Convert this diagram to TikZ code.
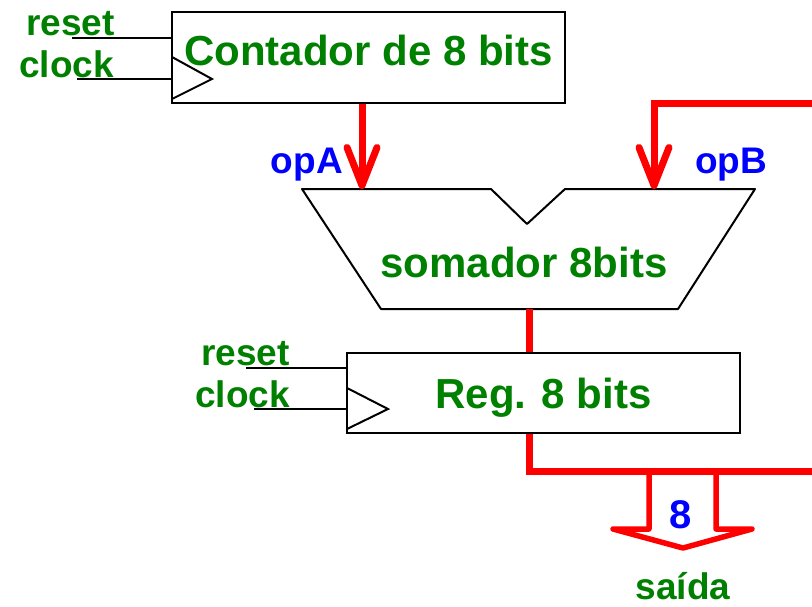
\documentclass[tikz,border=0pt]{standalone}
\usepackage{fontspec}
\setmainfont{Liberation Sans}
\usetikzlibrary{arrows.meta}
\definecolor{lblgreen}{RGB}{0,128,0}
\definecolor{lblblue}{RGB}{0,0,255}
\definecolor{busred}{RGB}{255,0,0}
\tikzset{
  blk/.style={draw, line width=2pt, inner sep=0pt, text=lblgreen,
    font=\fontsize{42}{48}\selectfont\bfseries},
  sig/.style={text=lblgreen, inner sep=0pt, anchor=base west,
    font=\fontsize{37}{44}\selectfont\bfseries},
  oplbl/.style={text=lblblue, inner sep=0pt, anchor=base west,
    font=\fontsize{37}{44}\selectfont\bfseries},
  wire/.style={line width=2pt},
  bus/.style={draw=busred, line width=7pt},
  busarrow/.style={bus, -{Straight Barb[length=38pt,width=30pt,round]}},
}
\begin{document}
\begin{tikzpicture}[x=1pt,y=-1pt]
\useasboundingbox (0,0) rectangle (812,606);
% contador
\node[blk, minimum width=393pt, minimum height=91pt, text height=30pt, text depth=15pt] (cnt) at (368.5,57.5) {Contador de 8 bits};
\node[sig] (rst1) at (26,35) {reset};
\node[sig] (clk1) at (19,77) {clock};
\coordinate (rst1in) at (72,38);
\coordinate (clk1in) at (77,79);
\draw[wire] (rst1in) -- (rst1in -| cnt.west);
\draw[wire] (clk1in) -- (clk1in -| cnt.west);
\draw[wire] (172,57) -- (212,79) -- (172,99);
%
% somador
\draw[wire, line join=round] (302,189) -- (491,189) -- (527,224) -- (565,189) -- (755,189) -- (678,309) -- (381,309) -- cycle;
\node[text=lblgreen, inner sep=0pt, anchor=base, font=\fontsize{42}{48}\selectfont\bfseries] (sum) at (524,277) {somador 8bits};
\coordinate (inA) at (362,189);
\coordinate (inB) at (654,189);
\coordinate (sumout) at (529,309);
\coordinate (fbtop) at (812,103);
\draw[busarrow] (cnt.south -| inA) -- (inA);
\draw[busarrow] (fbtop) -| (inB);
\node[oplbl, anchor=base east] (opA) at (343,173) {opA};
\node[oplbl] (opB) at (695,173) {opB};
%
% registrador
\node[blk, minimum width=393pt, minimum height=80pt, text height=30pt, text depth=0pt] (reg) at (543.5,393) {Reg. 8 bits};
\node[sig] (rst2) at (201,365) {reset};
\node[sig] (clk2) at (195,407) {clock};
\coordinate (rst2in) at (246,368);
\coordinate (clk2in) at (254,409);
\draw[wire] (rst2in) -- (rst2in -| reg.west);
\draw[wire] (clk2in) -- (clk2in -| reg.west);
\draw[wire] (347,388) -- (388,409) -- (347,429);
\draw[bus] (sumout) -- (sumout |- reg.north);
\coordinate (fbbot) at (812,471);
\draw[bus] (reg.south -| sumout) |- (fbbot);
%
% saida
\draw[busred, line width=5.5pt, line join=round, line cap=round] (649,471) -- (649,529) -- (613,529) -- (683,548) -- (752,529) -- (716,529) -- (716,471);
\node[text=lblblue, inner sep=0pt, anchor=base, font=\fontsize{40}{48}\selectfont\bfseries] (width) at (681,528) {8};
\node[sig, anchor=base] (out) at (683,599) {saída};
\end{tikzpicture}
\end{document}
